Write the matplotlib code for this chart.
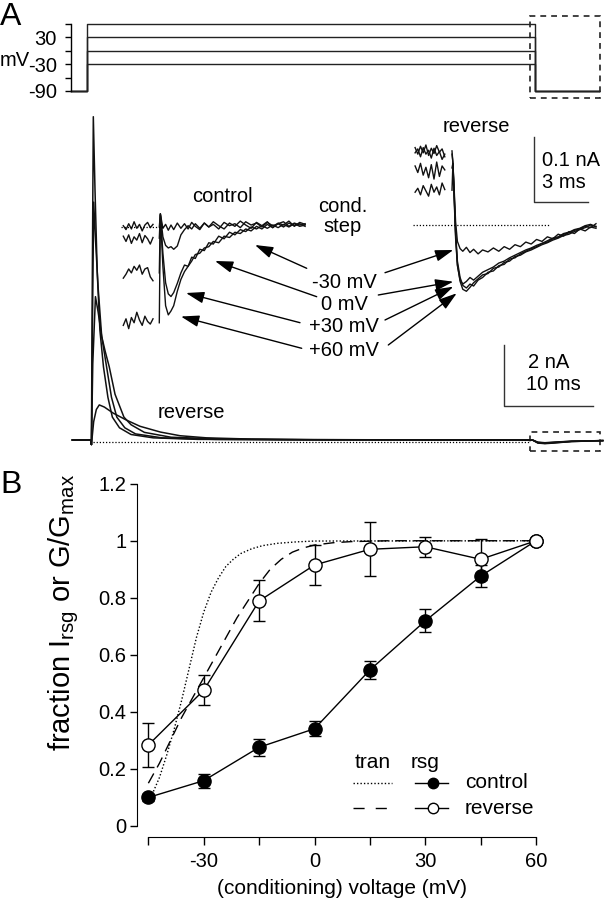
import matplotlib
matplotlib.use("Agg")
import matplotlib.pyplot as plt
from matplotlib.patches import Rectangle

plt.rcParams['font.family'] = ['Liberation Sans', 'DejaVu Sans']
plt.rcParams['mathtext.fontset'] = 'custom'
plt.rcParams['mathtext.rm'] = 'Liberation Sans'

W, H = 606, 899

# ---------------- panel A: voltage protocol ----------------
cond_levels = [60, 30, 0, -30]          # mV
prot_t = [-1.79, 0, 0, 50, 50, 57.1]     # ms
hold_v = -90

# ---------------- panel A: whole-cell currents (ms, nA) ----------------
tr1_t = [-2.1, -0.05, 0.05, 0.12, 0.26, 0.45, 0.7, 1.0, 1.4, 1.9, 2.4, 3.2, 4.5, 7.0, 12.0, 20.0, 49.6, 50.2, 51.0, 52.0, 54.0, 57.5]
tr1_i = [0, 0, -0.15, 4.0, 10.6, 8.2, 5.5, 3.6, 2.4, 1.4, 0.75, 0.4, 0.18, 0.07, 0.02, 0.01, 0.0, -0.08, -0.1, -0.08, -0.04, -0.02]
tr2_t = [-2.1, -0.05, 0.05, 0.14, 0.3, 0.5, 0.8, 1.2, 1.75, 2.3, 2.9, 3.8, 5.0, 8.0, 14.0, 22.0, 49.6, 50.2, 51.0, 52.0, 54.0, 57.5]
tr2_i = [0, 0, -0.15, 3.0, 7.8, 6.6, 5.0, 3.4, 2.4, 1.4, 0.75, 0.4, 0.2, 0.07, 0.02, 0.01, 0.0, -0.09, -0.11, -0.09, -0.05, -0.02]
tr3_t = [-2.1, -0.05, 0.05, 0.2, 0.5, 0.8, 1.2, 1.6, 2.05, 2.7, 3.7, 4.5, 6.0, 9.0, 15.0, 24.0, 49.6, 50.2, 51.0, 52.0, 54.0, 57.5]
tr3_i = [0, 0, -0.15, 2.5, 4.7, 4.2, 3.4, 2.9, 2.4, 1.5, 0.75, 0.5, 0.25, 0.09, 0.03, 0.01, 0.0, -0.1, -0.12, -0.1, -0.05, -0.02]
tr4_t = [-2.1, -0.05, 0.05, 0.3, 0.6, 0.93, 1.5, 2.5, 4.0, 5.5, 7.8, 10.0, 13.0, 18.0, 25.0, 49.6, 50.2, 51.0, 52.0, 54.0, 57.5]
tr4_i = [0, 0, -0.15, 0.6, 1.0, 1.15, 1.08, 0.88, 0.65, 0.45, 0.26, 0.14, 0.07, 0.03, 0.01, 0.0, -0.07, -0.09, -0.07, -0.04, -0.02]

# ---------------- inset "control" (ms, pA) ----------------
ci_pre_t = [-2.0, -1.85, -1.7, -1.55, -1.4, -1.25, -1.1, -0.95, -0.8, -0.65, -0.5, -0.35]
ci_pre = {
    'a': [2, -4, 5, -3, 8, -2, 4, -6, 3, 7, -1, 4],
    'b': [-14, -22, -12, -25, -15, -20, -10, -24, -13, -18, -26, -16],
    'c': [-78, -72, -64, -70, -60, -66, -58, -72, -64, -62, -76, -82],
    'd': [-150, -140, -155, -138, -146, -130, -142, -150, -136, -144, -148, -140],
}
ci_post_t = [0.0, 0.06, 0.2, 0.35, 0.5, 0.65, 0.8, 1.0, 1.2, 1.4, 1.6, 1.8, 2.0, 2.25, 2.5, 2.75, 3.0,
             3.3, 3.6, 3.9, 4.2, 4.5, 4.8, 5.1, 5.4, 5.7, 6.0, 6.3, 6.6, 6.9, 7.2, 7.5, 7.8, 8.1]
ci_post = {
    'a': [0, 20, -2, 4, -5, 3, -4, 6, -2, 5, -3, 7, 1, -4, 6, 0, 8, 2, -3, 6, 1, 9, 3, -2, 7, 2, 8, -1, 6, 3, 9, 1, 7, 4],
    'b': [-17, 20, -15, -28, -32, -30, -34, -29, -12, -4, 2, -3, 5, -2, 6, 0, 4, -3, 7, 2, 5, -1, 8, 3, 6, 0, 7, 2, 5, 8, 1, 6, 3, 5],
    'c': [-70, 18, -40, -85, -102, -106, -100, -86, -70, -58, -60, -46, -48, -34, -36, -24, -26, -14, -18, -8,
          -12, -4, -7, 0, -3, 2, -2, 3, -1, 4, 0, 5, 1, 3],
    'd': [-146, 20, -60, -120, -134, -128, -120, -98, -80, -68, -60, -52, -42, -40, -32, -30, -22, -24, -14, -16,
          -8, -10, -3, -6, 1, -3, 4, -1, 5, 0, 6, 2, 5, 1],
}

# ---------------- inset "reverse" (ms, pA) ----------------
ri_pre_t = [-2.05, -1.9, -1.75, -1.6, -1.45, -1.3, -1.15, -1.0, -0.85, -0.7, -0.55, -0.4]
ri_pre = {
    'r1': [118, 108, 120, 110, 122, 106, 117, 109, 121, 111, 116, 104],
    'r2': [110, 116, 104, 118, 108, 114, 102, 117, 106, 112, 100, 108],
    'r3': [90, 80, 94, 76, 88, 72, 92, 70, 96, 74, 90, 84],
    'r4': [50, 56, 46, 60, 52, 44, 62, 50, 58, 46, 64, 54],
}
ri_post_t = [0.0, 0.05, 0.12, 0.2, 0.3, 0.45, 0.6, 0.8, 1.0, 1.2, 1.45, 1.7, 2.0, 2.3, 2.6, 2.9, 3.2,
             3.5, 3.8, 4.1, 4.4, 4.7, 5.0, 5.3, 5.6, 5.9, 6.2, 6.5, 6.8, 7.1, 7.4, 7.7, 8.0]
ri_post = {
    'r1': [113, 95, 55, 5, -25, -36, -40, -34, -42, -37, -44, -38, -41, -35, -40, -33, -37, -30, -33, -26,
           -29, -22, -25, -18, -21, -14, -17, -10, -13, -6, -9, -3, -5],
    'r2': [108, 96, 50, -10, -55, -80, -92, -96, -90, -93, -84, -80, -72, -70, -62, -60, -52, -50, -44, -40,
           -36, -33, -28, -26, -21, -19, -14, -12, -8, -6, -2, -4, 2],
    'r3': [87, 94, 45, -15, -60, -86, -98, -101, -95, -88, -82, -76, -74, -66, -64, -57, -55, -48, -46, -41,
           -38, -34, -30, -27, -23, -20, -16, -14, -10, -7, -4, 0, -2],
    'r4': [53, 92, 40, -20, -62, -84, -90, -86, -80, -84, -78, -72, -68, -64, -58, -55, -50, -46, -42, -38,
           -35, -31, -28, -24, -20, -18, -13, -11, -7, -5, -1, 1, -3],
}

# ---------------- panel B ----------------
volt = [-45, -30, -15, 0, 15, 30, 45, 60]
ctrl = [0.100, 0.159, 0.276, 0.341, 0.547, 0.719, 0.876, 1.0]
ctrl_err = [0.012, 0.025, 0.03, 0.027, 0.033, 0.04, 0.038, 0.0]
rev = [0.284, 0.476, 0.789, 0.915, 0.970, 0.979, 0.935, 1.0]
rev_err = [0.077, 0.053, 0.072, 0.071, 0.095, 0.035, 0.071, 0.0]

tran_ctrl_v = [-44, -42, -40, -38, -36, -34, -32, -30, -28, -26, -24, -22, -20, -17, -14, -10, -5, 0, 60]
tran_ctrl_f = [0.11, 0.17, 0.25, 0.34, 0.44, 0.55, 0.66, 0.75, 0.82, 0.87, 0.91, 0.935, 0.955, 0.972,
               0.983, 0.991, 0.996, 0.999, 1.0]
tran_rev_v = [-45, -42, -39, -36, -33, -30, -27, -24, -21, -18, -15, -12, -9, -6, -3, 0, 5, 10, 20, 60]
tran_rev_f = [0.15, 0.22, 0.30, 0.38, 0.45, 0.52, 0.59, 0.66, 0.73, 0.79, 0.85, 0.90, 0.935, 0.96,
              0.975, 0.985, 0.993, 0.997, 1.0, 1.0]

ytick_vals = [0, 0.2, 0.4, 0.6, 0.8, 1.0, 1.2]
ytick_labels = ['0', '0.2', '0.4', '0.6', '0.8', '1', '1.2']
xtick_vals = [-45, -30, -15, 0, 15, 30, 45, 60]
xtick_labels = ['', '-30', '', '0', '', '30', '', '60']

# arrows: (label end) -> (tip), figure pixels
arrows_left = [((306.7, 268.3), (255, 245)), ((316.7, 296.7), (215, 261)),
               ((300, 322.7), (186, 293)), ((301.7, 348.3), (181, 316.5))]
arrows_right = [((385, 272.7), (453.3, 250)), ((378.3, 295), (453.3, 281.7)),
                ((385, 320), (453.3, 286.7)), ((388.3, 345), (456.7, 293.3))]
step_labels = ['-30 mV', '0 mV', '+30 mV', '+60 mV']
step_label_y = [282, 304.5, 327, 350]

TRC = '#111111'
FS = 14.5

fig = plt.figure(figsize=(W / 100, H / 100), dpi=100)


def px_axes(x0, y0, x1, y1):
    # pixel box with top-left origin -> figure axes
    a = fig.add_axes([x0 / W, 1 - y1 / H, (x1 - x0) / W, (y1 - y0) / H])
    a.patch.set_visible(False)
    return a


# overlay in pixel coords for labels and arrows
ov = px_axes(0, 0, W, H)
ov.set_xlim(0, W)
ov.set_ylim(H, 0)
ov.axis('off')

# ---- protocol ----
axP = px_axes(70.7, 10, 606, 100)
axP.set_xlim(-1.785, 57.92)
axP.set_ylim(-110.3, 91.05)
for v in cond_levels:
    axP.plot(prot_t, [hold_v, hold_v, v, v, hold_v, hold_v], color='#222222', lw=1.0, clip_on=False)
axP.add_patch(Rectangle((49.44, -105.8), 7.81, 183.4, fill=False, ls=(0, (3.5, 3)), lw=1.2,
                        ec='#222222', clip_on=False))
for s in ['top', 'right', 'bottom']:
    axP.spines[s].set_visible(False)
axP.spines['left'].set_bounds(-90, 60)
axP.spines['left'].set_linewidth(1.0)
axP.set_xticks([])
axP.set_yticks([-90, -60, -30, 0, 30, 60])
axP.set_yticklabels(['-90', '', '-30', '', '30', ''])
axP.tick_params(axis='y', length=4, width=1, pad=6, labelsize=FS)
fig.text(0, 1 - 61 / H, 'mV', ha='left', va='center', fontsize=FS)

# ---- main current traces ----
axT = px_axes(60, 100, 606, 465)
axT.set_xlim(-3.483, 57.865)
axT.set_ylim(-0.820, 11.148)
axT.axis('off')
for tt, ii in [(tr4_t, tr4_i), (tr3_t, tr3_i), (tr2_t, tr2_i), (tr1_t, tr1_i)]:
    axT.plot(tt, ii, color=TRC, lw=1.1)
axT.plot([0.22, 49.3], [-0.05, -0.05], color='k', lw=0.9, ls=(0, (1, 1.5)))
axT.add_patch(Rectangle((49.3, -0.35), 7.9, 0.62, fill=False, ls=(0, (3.5, 3)), lw=1.2, ec='#222222'))
# scale bar 2 nA / 10 ms
axT.plot([46.4, 46.4, 56.4], [3.11, 1.11, 1.11], color='#333333', lw=1.0)

# ---- control inset ----
axC = px_axes(115, 190, 320, 340)
axC.set_xlim(-2.461, 8.928)
axC.set_ylim(-172.3, 56.4)
axC.axis('off')
for k in ['a', 'b', 'c', 'd']:
    axC.plot(ci_pre_t, ci_pre[k], color=TRC, lw=1.0)
    axC.plot(ci_post_t, ci_post[k], color=TRC, lw=1.0)
axC.plot([-2.1, 0.2], [0, 0], color='k', lw=0.9, ls=(0, (1, 1.5)))

# ---- reverse inset ----
axR = px_axes(405, 110, 606, 300)
axR.set_xlim(-2.611, 8.556)
axR.set_ylim(-114.3, 175.3)
axR.axis('off')
for k in ['r1', 'r2', 'r3', 'r4']:
    axR.plot(ri_pre_t, ri_pre[k], color=TRC, lw=1.0)
    axR.plot(ri_post_t, ri_post[k], color=TRC, lw=1.0)
axR.plot([-2.17, 5.44], [0, 0], color='k', lw=0.9, ls=(0, (1, 1.5)))
# scale bar 0.1 nA / 3 ms
axR.plot([4.57, 4.57, 7.57], [134.6, 34.6, 34.6], color='#333333', lw=1.0)

# ---- panel A labels and arrows ----
for (x0, y0), (x1, y1) in arrows_left + arrows_right:
    ov.annotate('', xy=(x1, y1), xytext=(x0, y0),
                arrowprops=dict(arrowstyle='-|>,head_length=1.0,head_width=0.32', mutation_scale=11,
                                lw=1.0, color='k', shrinkA=0, shrinkB=0))
for lab, y in zip(step_labels, step_label_y):
    ov.text(344, y, lab, ha='center', va='center', fontsize=FS)
ov.text(222.5, 197, 'control', ha='center', va='center', fontsize=FS)
ov.text(343, 207, 'cond.', ha='center', va='center', fontsize=FS)
ov.text(343, 227, 'step', ha='center', va='center', fontsize=FS)
ov.text(476, 127, 'reverse', ha='center', va='center', fontsize=FS)
ov.text(191.5, 413, 'reverse', ha='center', va='center', fontsize=FS)
ov.text(542, 160, '0.1 nA', ha='left', va='center', fontsize=FS)
ov.text(542, 182, '3 ms', ha='left', va='center', fontsize=FS)
ov.text(549, 363, '2 nA', ha='center', va='center', fontsize=FS)
ov.text(553, 385, '10 ms', ha='center', va='center', fontsize=FS)
fig.text(0, 1 - 25 / H, 'A', ha='left', va='baseline', fontsize=23)
fig.text(0, 1 - 493 / H, 'B', ha='left', va='baseline', fontsize=23)

# ---- panel B ----
axB = px_axes(137.3, 478, 543.4, 837)
axB.set_xlim(-48, 62)
axB.set_ylim(-0.0386, 1.22)
axB.plot(tran_ctrl_v, tran_ctrl_f, color='k', lw=1.0, ls=(0, (1, 1.5)), zorder=2)
axB.plot(tran_rev_v, tran_rev_f, color='k', lw=1.0, ls=(0, (8, 5)), zorder=2)
axB.errorbar(volt, ctrl, yerr=ctrl_err, fmt='o-', color='k', mfc='k', mec='k', ms=9.5, lw=1.0,
             elinewidth=1.0, capsize=4, capthick=1.0, zorder=3)
axB.errorbar(volt, rev, yerr=rev_err, fmt='o-', color='k', mfc='white', mec='k', ms=9.5, lw=1.0,
             mew=1.0, elinewidth=1.0, capsize=4, capthick=1.0, zorder=4)
for s in ['top', 'right']:
    axB.spines[s].set_visible(False)
axB.spines['left'].set_bounds(0, 1.2)
axB.spines['bottom'].set_bounds(-45, 60)
axB.set_yticks(ytick_vals)
axB.set_yticklabels(ytick_labels)
axB.set_xticks(xtick_vals)
axB.set_xticklabels(xtick_labels)
axB.tick_params(axis='y', length=5, width=1, pad=3, labelsize=FS)
axB.tick_params(axis='x', length=6, width=1, pad=5, labelsize=FS)
fig.text(64 / W, 1 - 612 / H, r'fraction I$_\mathregular{rsg}$ or G/G$_\mathregular{max}$',
         rotation=90, ha='center', va='center', fontsize=21)
fig.text(342 / W, 1 - 889 / H, '(conditioning) voltage (mV)', ha='center', va='center', fontsize=15)

# legend built by hand
ov.text(373, 762, 'tran', ha='center', va='center', fontsize=15)
ov.text(425, 762, 'rsg', ha='center', va='center', fontsize=15)
ov.plot([353, 392], [783, 783], color='k', lw=1.0, ls=(0, (1, 1.5)))
ov.plot([353, 392], [808, 808], color='k', lw=1.0, ls=(0, (8, 8)))
ov.plot([415, 448], [783, 783], color='k', lw=1.0)
ov.plot([433], [783], 'o', color='k', ms=7.5)
ov.plot([415, 448], [808, 808], color='k', lw=1.0)
ov.plot([433], [808], 'o', mfc='white', mec='k', ms=7.5)
ov.text(465, 783, 'control', ha='left', va='center', fontsize=15)
ov.text(465, 808, 'reverse', ha='left', va='center', fontsize=15)

fig.savefig('out.png', dpi=100)
